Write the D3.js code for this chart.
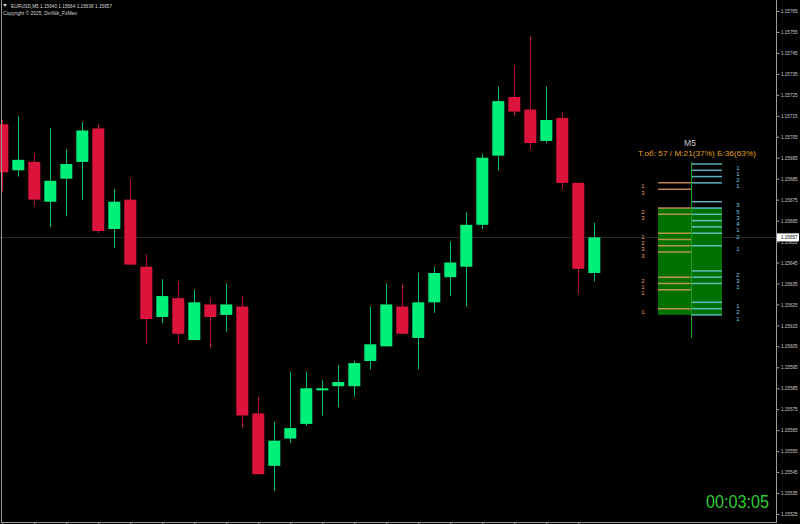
<!DOCTYPE html>
<html>
<head>
<meta charset="utf-8">
<script src="https://cdn.jsdelivr.net/npm/d3@7"></script>
<style>
html,body{margin:0;padding:0;background:#000;}
svg{display:block;}
text{font-family:"Liberation Sans",Arial,sans-serif;}
</style>
</head>
<body>
<svg id="chart" width="800" height="524"></svg>
<script>
// ---------- DATA ----------
const symbolTitle = "EURUSD,M5  1.15640 1.15664 1.15636 1.15657";
const copyrightText = "Copyright © 2025, DmNik_FxMen";
const opens  = [1.15711,1.15689,1.15693,1.15674,1.15685,1.15693,1.15709,1.15661,1.15675,1.15643,1.15619,1.15628,1.15608,1.15625,1.15620,1.15624,1.15573,1.15548,1.15561,1.15568,1.15584,1.15586,1.15586,1.15598,1.15605,1.15624,1.15609,1.15626,1.15638,1.15643,1.15663,1.15696,1.15724,1.15718,1.15703,1.15714,1.15683,1.15640];
const highs  = [1.15713,1.15715,1.15697,1.15709,1.15699,1.15712,1.15711,1.15680,1.15685,1.15649,1.15637,1.15636,1.15632,1.15628,1.15635,1.15629,1.15581,1.15569,1.15593,1.15593,1.15589,1.15596,1.15598,1.15624,1.15635,1.15635,1.15640,1.15643,1.15655,1.15669,1.15697,1.15729,1.15739,1.15753,1.15729,1.15717,1.15683,1.15664];
const lows   = [1.15679,1.15686,1.15672,1.15662,1.15667,1.15675,1.15659,1.15652,1.15644,1.15606,1.15616,1.15606,1.15608,1.15604,1.15612,1.15566,1.15544,1.15536,1.15559,1.15567,1.15572,1.15576,1.15581,1.15594,1.15605,1.15611,1.15594,1.15621,1.15629,1.15624,1.15661,1.15689,1.15715,1.15699,1.15702,1.15680,1.15630,1.15636];
const closes = [1.15688,1.15694,1.15675,1.15684,1.15692,1.15708,1.15660,1.15674,1.15644,1.15618,1.15629,1.15611,1.15626,1.15619,1.15625,1.15572,1.15544,1.15560,1.15566,1.15585,1.15585,1.15588,1.15597,1.15606,1.15625,1.15611,1.15626,1.15640,1.15645,1.15663,1.15695,1.15722,1.15717,1.15702,1.15713,1.15683,1.15642,1.15657];
const currentPrice = 1.15657;
const priceTicks = [1.15765,1.15755,1.15745,1.15735,1.15725,1.15715,1.15705,1.15695,1.15685,1.15675,1.15665,1.15655,1.15645,1.15635,1.15625,1.15615,1.15605,1.15595,1.15585,1.15575,1.15565,1.15555,1.15545,1.15535,1.15525];
const timeTickIdx = [0,2,4,6,8,10,12,14,16,18,20,22,24,26,28,30,32,34,36];

// profile panel
const panelTitle = "M5";
const panelSubtitle = "Т.об: 57 / М:21(37%) Б:36(63%)";
const buyLevels  = [1.15692,1.15689,1.15686,1.15683,1.15674,1.15671,1.15668,1.15665,1.15662,1.15659,1.15653,1.15641,1.15638,1.15635,1.15626,1.15623,1.15620];
const buyCounts  = [1,1,2,1,3,5,3,4,1,2,1,2,3,1,1,2,1];
const sellLevels = [1.15683,1.15680,1.15671,1.15668,1.15659,1.15656,1.15653,1.15650,1.15638,1.15635,1.15632,1.15623];
const sellCounts = [1,3,2,3,1,2,3,3,2,1,1,1];
const valueArea  = [1.15620,1.15671];
const panelRange = [1.15609,1.15693];
const timerText  = "00:03:05";

// ---------- CHART ----------
const W = 800, H = 524;
const svg = d3.select("#chart");
const plotRight = 776, plotBottom = 522;

const y = d3.scaleLinear().domain([1.155212, 1.1577025]).range([plotBottom, 0]);
const x = d3.scaleLinear().domain([0, 37]).range([2.3, 594.3]);

const candles = opens.map((o,i)=>({o, h:highs[i], l:lows[i], c:closes[i], i}));
const UP = "#00F07A", DN = "#DC143C";

// current price line
svg.append("line").attr("x1",0).attr("x2",plotRight).attr("y1",Math.round(y(currentPrice))+0.5).attr("y2",Math.round(y(currentPrice))+0.5)
  .attr("stroke","#262626").attr("stroke-width",1);

const g = svg.append("g");
g.selectAll("line.wick").data(candles).join("line").attr("class","wick")
  .attr("x1",d=>Math.round(x(d.i))+0.5).attr("x2",d=>Math.round(x(d.i))+0.5)
  .attr("y1",d=>y(d.h)).attr("y2",d=>y(d.l))
  .attr("stroke",d=>d.c>=d.o?UP:DN).attr("stroke-width",1).attr("stroke-opacity",0.8);
g.selectAll("rect.body").data(candles).join("rect").attr("class","body")
  .attr("x",d=>x(d.i)-6).attr("width",12)
  .attr("y",d=>y(Math.max(d.o,d.c))).attr("height",d=>Math.max(1.5,Math.abs(y(d.o)-y(d.c))))
  .attr("fill",d=>d.c>=d.o?UP:DN);

// frame
svg.append("line").attr("x1",1.5).attr("x2",1.5).attr("y1",0).attr("y2",plotBottom).attr("stroke","#9a9a9a");

// right axis
const yAxis = d3.axisRight(y).tickValues(priceTicks).tickSize(3).tickFormat(d3.format(".5f"));
const ya = svg.append("g").attr("transform",`translate(${plotRight+0.5},0)`).call(yAxis);
ya.select(".domain").attr("stroke","#9a9a9a").attr("d",`M0,0V${plotBottom}`);
ya.selectAll(".tick line").attr("stroke","#9a9a9a");
ya.selectAll(".tick text").attr("fill","#cfcfcf").attr("font-size",5).attr("x",4.5)
  .attr("textLength",16.5).attr("lengthAdjust","spacingAndGlyphs");

// current price box
const cy = y(currentPrice);
svg.append("rect").attr("x",plotRight+1).attr("y",cy-4).attr("width",22).attr("height",8).attr("fill","#ffffff");
svg.append("text").attr("x",plotRight+5).attr("y",cy+2).attr("fill","#000").attr("font-size",5)
  .attr("textLength",16.5).attr("lengthAdjust","spacingAndGlyphs").text(d3.format(".5f")(currentPrice));

// bottom axis
const xAxis = d3.axisBottom(x).tickValues(timeTickIdx).tickSize(3).tickFormat("");
const xa = svg.append("g").attr("transform",`translate(0,${plotBottom+0.5})`).call(xAxis);
xa.select(".domain").attr("stroke","#9a9a9a").attr("d",`M1,0H${plotRight+1}`);
xa.selectAll(".tick line").attr("stroke","#9a9a9a");

// header
svg.append("path").attr("d","M3,4 L7,4 L5,7 Z").attr("fill","#d0d0d0");
svg.append("text").attr("x",11).attr("y",7.5).attr("fill","#d8d8d8").attr("font-size",5.8)
  .attr("textLength",101).attr("lengthAdjust","spacingAndGlyphs").text(symbolTitle);
svg.append("text").attr("x",3).attr("y",15).attr("fill","#d8d8d8").attr("font-size",5.8)
  .attr("textLength",74).attr("lengthAdjust","spacingAndGlyphs").text(copyrightText);

// ---------- PROFILE PANEL ----------
const pMid = 691, pLeft = 658, pRight = 722;
const ORANGE = "#E8A060", CYAN = "#6CCFE0";
svg.append("rect").attr("x",pLeft).attr("width",pRight-pLeft)
  .attr("y",y(valueArea[1])).attr("height",y(valueArea[0])-y(valueArea[1])).attr("fill","#007000");
svg.append("line").attr("x1",pMid+0.5).attr("x2",pMid+0.5).attr("y1",y(panelRange[1])).attr("y2",y(panelRange[0]))
  .attr("stroke","#1aa01a").attr("stroke-width",1);
svg.selectAll("line.sell").data(sellLevels).join("line").attr("class","sell")
  .attr("x1",pLeft).attr("x2",pMid).attr("y1",d=>y(d)).attr("y2",d=>y(d))
  .attr("stroke",ORANGE).attr("stroke-width",1.5).attr("stroke-opacity",0.8);
svg.selectAll("line.buy").data(buyLevels).join("line").attr("class","buy")
  .attr("x1",pMid+1).attr("x2",pRight).attr("y1",d=>y(d)).attr("y2",d=>y(d))
  .attr("stroke",CYAN).attr("stroke-width",1.5).attr("stroke-opacity",0.85);
svg.selectAll("text.sellc").data(sellLevels).join("text").attr("class","sellc")
  .attr("x",643).attr("y",d=>y(d)+5.6).attr("text-anchor","middle").attr("fill",ORANGE).attr("font-size",6)
  .text((d,i)=>sellCounts[i]);
svg.selectAll("text.buyc").data(buyLevels).join("text").attr("class","buyc")
  .attr("x",738).attr("y",d=>y(d)+5.6).attr("text-anchor","middle").attr("fill",CYAN).attr("font-size",6)
  .text((d,i)=>buyCounts[i]);
svg.append("text").attr("x",690).attr("y",146).attr("text-anchor","middle").attr("fill","#c8c8c8").attr("font-size",8.5).text(panelTitle);
svg.append("text").attr("x",697).attr("y",155.5).attr("text-anchor","middle").attr("fill","#E0A020").attr("font-size",6.6)
  .attr("textLength",118).attr("lengthAdjust","spacingAndGlyphs").text(panelSubtitle);

// timer
svg.append("text").attr("x",706).attr("y",507.5).attr("fill","#32CD32").attr("font-size",17.5)
  .attr("textLength",63).attr("lengthAdjust","spacingAndGlyphs").text(timerText);
</script>
</body>
</html>
